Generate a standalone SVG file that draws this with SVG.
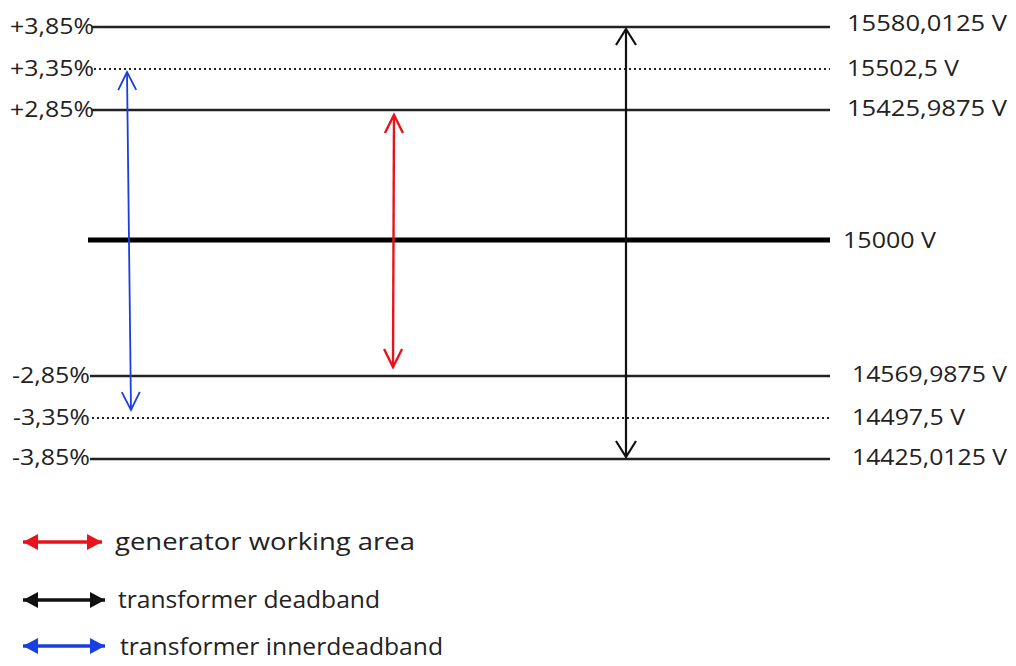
<svg xmlns="http://www.w3.org/2000/svg" width="1016" height="666" viewBox="0 0 1016 666">
<style>
text{font-family:"Open Sans","Liberation Sans",sans-serif;fill:#222}
.lbl{font-size:22px}
.leg{font-size:24px}
.lvl{stroke:#222;stroke-width:2.5;fill:none}
.dot{stroke:#222;stroke-width:2.2;stroke-dasharray:2 3;fill:none}
</style>
<defs>
<marker id="ok" markerUnits="userSpaceOnUse" viewBox="-20 -12 24 24" markerWidth="24" markerHeight="24" refX="0" refY="0" orient="auto-start-reverse"><path d="M-16,-10 L0,0 L-16,10" fill="none" stroke="#111" stroke-width="2.2"/></marker>
<marker id="or" markerUnits="userSpaceOnUse" viewBox="-20 -12 24 24" markerWidth="24" markerHeight="24" refX="0" refY="0" orient="auto-start-reverse"><path d="M-18,-9 L0,0 L-18,9" fill="none" stroke="#e8141b" stroke-width="2.4"/></marker>
<marker id="ob" markerUnits="userSpaceOnUse" viewBox="-20 -12 24 24" markerWidth="24" markerHeight="24" refX="0" refY="0" orient="auto-start-reverse"><path d="M-18,-9 L0,0 L-18,9" fill="none" stroke="#1a3fe0" stroke-width="1.8"/></marker>
<marker id="fr" markerUnits="userSpaceOnUse" viewBox="-16 -9 18 18" markerWidth="18" markerHeight="18" refX="0" refY="0" orient="auto-start-reverse"><path d="M-15,-8 L0,0 L-15,8 Z" fill="#e8141b"/></marker>
<marker id="fk" markerUnits="userSpaceOnUse" viewBox="-16 -9 18 18" markerWidth="18" markerHeight="18" refX="0" refY="0" orient="auto-start-reverse"><path d="M-15,-8 L0,0 L-15,8 Z" fill="#111"/></marker>
<marker id="fb" markerUnits="userSpaceOnUse" viewBox="-16 -9 18 18" markerWidth="18" markerHeight="18" refX="0" refY="0" orient="auto-start-reverse"><path d="M-15,-8 L0,0 L-15,8 Z" fill="#1a3fe0"/></marker>
</defs>
<rect width="1016" height="666" fill="#fff"/>
<g id="level-p385">
<line class="lvl" x1="92" y1="27" x2="830" y2="27"/>
<text class="lbl" x="10" y="34" textLength="84" lengthAdjust="spacingAndGlyphs">+3,85%</text>
<text class="lbl" x="847" y="31" textLength="160" lengthAdjust="spacingAndGlyphs">15580,0125 V</text>
</g>
<g id="level-p335">
<line class="dot" x1="94" y1="69" x2="830" y2="69"/>
<text class="lbl" x="10" y="76" textLength="84" lengthAdjust="spacingAndGlyphs">+3,35%</text>
<text class="lbl" x="847" y="76" textLength="112" lengthAdjust="spacingAndGlyphs">15502,5 V</text>
</g>
<g id="level-p285">
<line class="lvl" x1="92" y1="110" x2="830" y2="110"/>
<text class="lbl" x="10" y="117" textLength="84" lengthAdjust="spacingAndGlyphs">+2,85%</text>
<text class="lbl" x="847" y="116" textLength="160" lengthAdjust="spacingAndGlyphs">15425,9875 V</text>
</g>
<g id="level-nominal">
<line x1="88" y1="240" x2="830" y2="240" stroke="#000" stroke-width="5"/>
<text class="lbl" x="843" y="248" textLength="93" lengthAdjust="spacingAndGlyphs">15000 V</text>
</g>
<g id="level-m285">
<line class="lvl" x1="90" y1="376" x2="830" y2="376"/>
<text class="lbl" x="12" y="383" textLength="78" lengthAdjust="spacingAndGlyphs">-2,85%</text>
<text class="lbl" x="852" y="382" textLength="155" lengthAdjust="spacingAndGlyphs">14569,9875 V</text>
</g>
<g id="level-m335">
<line class="dot" x1="92" y1="418" x2="830" y2="418"/>
<text class="lbl" x="13" y="425" textLength="77" lengthAdjust="spacingAndGlyphs">-3,35%</text>
<text class="lbl" x="852" y="425" textLength="113" lengthAdjust="spacingAndGlyphs">14497,5 V</text>
</g>
<g id="level-m385">
<line class="lvl" x1="90" y1="459" x2="830" y2="459"/>
<text class="lbl" x="12" y="465" textLength="78" lengthAdjust="spacingAndGlyphs">-3,85%</text>
<text class="lbl" x="852" y="465" textLength="155" lengthAdjust="spacingAndGlyphs">14425,0125 V</text>
</g>
<g id="connectors">
<line x1="626" y1="29" x2="626" y2="457" stroke="#111" stroke-width="2.2" marker-start="url(#ok)" marker-end="url(#ok)"/>
<line x1="394" y1="115" x2="393" y2="367" stroke="#e8141b" stroke-width="2.4" marker-start="url(#or)" marker-end="url(#or)"/>
<line x1="127" y1="72" x2="131" y2="410" stroke="#1a3fe0" stroke-width="1.8" marker-start="url(#ob)" marker-end="url(#ob)"/>
</g>
<g id="legend-generator">
<line x1="23" y1="542" x2="102" y2="542" stroke="#e8141b" stroke-width="3.5" marker-start="url(#fr)" marker-end="url(#fr)"/>
<text class="leg" x="115" y="550" textLength="300" lengthAdjust="spacingAndGlyphs">generator working area</text>
</g>
<g id="legend-deadband">
<line x1="23" y1="600" x2="105" y2="600" stroke="#111" stroke-width="3.5" marker-start="url(#fk)" marker-end="url(#fk)"/>
<text class="leg" x="118" y="608" font-size="23" textLength="262" lengthAdjust="spacingAndGlyphs">transformer deadband</text>
</g>
<g id="legend-inner">
<line x1="23" y1="646" x2="105" y2="646" stroke="#1a3fe0" stroke-width="3.5" marker-start="url(#fb)" marker-end="url(#fb)"/>
<text class="leg" x="120" y="655" font-size="23" textLength="323" lengthAdjust="spacingAndGlyphs">transformer innerdeadband</text>
</g>
</svg>
